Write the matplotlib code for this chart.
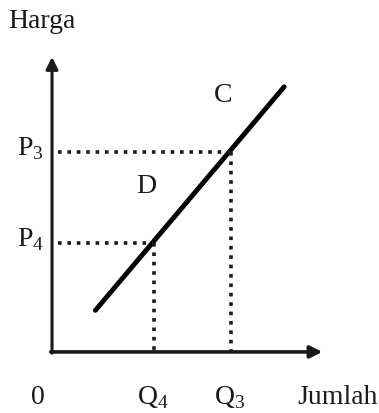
import matplotlib.pyplot as plt

# supply curve end points (quantity, price)
supply_q = [1.7, 9.1]
supply_p = [1.6, 10.2]

# marked equilibrium points
point_names = ["D", "C"]
point_q = [4.0, 7.0]
point_p = [4.2, 7.7]
q_labels = ["Q$_{\\mathrm{4}}$", "Q$_{\\mathrm{3}}$"]
p_labels = ["P$_{\\mathrm{4}}$", "P$_{\\mathrm{3}}$"]

plt.rcParams["font.family"] = "Liberation Serif"
plt.rcParams["mathtext.fontset"] = "custom"
plt.rcParams["mathtext.rm"] = "Liberation Serif"

ink = "#1a1a1a"

fig = plt.figure(figsize=(3.79, 4.14), dpi=100)
ax = fig.add_axes([0, 0, 1, 1])
ax.set_xlim(-2.04, 12.82)
ax.set_ylim(-2.35, 13.58)
ax.axis("off")

# axes with arrows
ax.annotate("", xy=(0, 11.35), xytext=(0, -0.05),
            arrowprops=dict(arrowstyle="-|>", lw=2.2, color=ink,
                            mutation_scale=18, shrinkA=0, shrinkB=0))
ax.annotate("", xy=(10.6, 0), xytext=(-0.05, 0),
            arrowprops=dict(arrowstyle="-|>", lw=2.6, color=ink,
                            mutation_scale=18, shrinkA=0, shrinkB=0))

# supply curve
ax.plot(supply_q, supply_p, color="black", lw=3.5, solid_capstyle="round")

# dotted guides
for q, p in zip(point_q, point_p):
    ax.plot([0.25, q], [p, p], color=ink, lw=2.6, ls=(0, (1, 1.6)))
    ax.plot([q, q], [p, 0], color=ink, lw=2.6, ls=(0, (1, 1.6)))

# labels
fs = 20
for name, q, p in zip(point_names, point_q, point_p):
    ax.text(q - 0.3, p + 2.2, name, fontsize=fs, ha="center", va="center", color=ink)
for lab, q in zip(q_labels, point_q):
    ax.text(q - 0.05, -1.7, lab, fontsize=fs, ha="center", va="center", color=ink)
for lab, p in zip(p_labels, point_p):
    ax.text(-0.85, p + 0.15, lab, fontsize=fs, ha="center", va="center", color=ink)

ax.text(-0.55, -1.7, "0", fontsize=fs, ha="center", va="center", color=ink)
ax.text(-0.4, 12.75, "Harga", fontsize=fs, ha="center", va="center", color=ink)
ax.text(12.78, -1.7, "Jumlah", fontsize=fs, ha="right", va="center", color=ink)

fig.savefig("out.png", dpi=100)
